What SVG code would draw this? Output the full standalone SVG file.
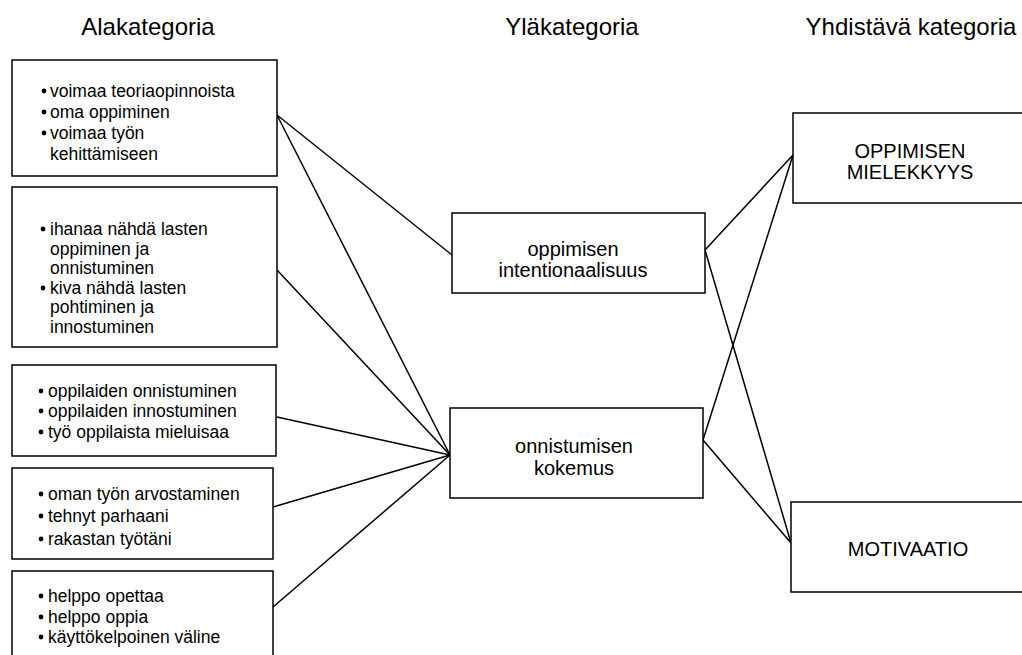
<svg xmlns="http://www.w3.org/2000/svg" width="1022" height="655" viewBox="0 0 1022 655">
  <style>
    .box { fill: #fff; stroke: #000; stroke-width: 1.5; }
    .head { font-family: "Liberation Sans", Arial, sans-serif; font-size: 24px; fill: #000; text-anchor: middle; }
    .item { font-family: "Liberation Sans", Arial, sans-serif; font-size: 17.5px; fill: #000; }
    .mid { font-family: "Liberation Sans", Arial, sans-serif; font-size: 20px; fill: #000; text-anchor: middle; }
    .link { stroke: #000; stroke-width: 1.5; fill: none; }
  </style>
  <rect width="1022" height="655" fill="#fff"/>

  <!-- column headings -->
  <g id="headings">
    <text class="head" x="148" y="35">Alakategoria</text>
    <text class="head" x="572" y="35">Yläkategoria</text>
    <text class="head" x="911" y="35">Yhdistävä kategoria</text>
  </g>

  <!-- connectors -->
  <g id="connectors">
    <line class="link" x1="277" y1="115" x2="452" y2="255"/>
    <line class="link" x1="277" y1="115" x2="450" y2="455"/>
    <line class="link" x1="277" y1="270" x2="450" y2="455"/>
    <line class="link" x1="277" y1="417" x2="450" y2="455"/>
    <line class="link" x1="273" y1="507" x2="450" y2="455"/>
    <line class="link" x1="273" y1="607" x2="450" y2="455"/>
    <line class="link" x1="705" y1="250" x2="793" y2="155"/>
    <line class="link" x1="705" y1="250" x2="791" y2="543"/>
    <line class="link" x1="703" y1="440" x2="793" y2="155"/>
    <line class="link" x1="703" y1="440" x2="791" y2="543"/>
  </g>

  <!-- sub-categories -->
  <g id="sub1">
    <rect class="box" x="12" y="60" width="265" height="116"/>
    <circle cx="44" cy="91" r="2.4"/>
    <circle cx="44" cy="112" r="2.4"/>
    <circle cx="44" cy="133" r="2.4"/>
    <text class="item" x="50" y="97">voimaa teoriaopinnoista</text>
    <text class="item" x="50" y="118">oma oppiminen</text>
    <text class="item" x="50" y="139">voimaa työn</text>
    <text class="item" x="50" y="160">kehittämiseen</text>
  </g>

  <g id="sub2">
    <rect class="box" x="12" y="187" width="265" height="160"/>
    <circle cx="43" cy="229" r="2.4"/>
    <circle cx="43" cy="288" r="2.4"/>
    <text class="item" x="50" y="235">ihanaa nähdä lasten</text>
    <text class="item" x="50" y="255">oppiminen ja</text>
    <text class="item" x="50" y="274">onnistuminen</text>
    <text class="item" x="50" y="294">kiva nähdä lasten</text>
    <text class="item" x="50" y="313">pohtiminen ja</text>
    <text class="item" x="50" y="333">innostuminen</text>
  </g>

  <g id="sub3">
    <rect class="box" x="12" y="365" width="264" height="91"/>
    <circle cx="41" cy="391" r="2.4"/>
    <circle cx="41" cy="411" r="2.4"/>
    <circle cx="41" cy="432" r="2.4"/>
    <text class="item" x="48" y="397">oppilaiden onnistuminen</text>
    <text class="item" x="48" y="417">oppilaiden innostuminen</text>
    <text class="item" x="48" y="438">työ oppilaista mieluisaa</text>
  </g>

  <g id="sub4">
    <rect class="box" x="12" y="468" width="261" height="91"/>
    <circle cx="41" cy="494" r="2.4"/>
    <circle cx="41" cy="516" r="2.4"/>
    <circle cx="41" cy="539" r="2.4"/>
    <text class="item" x="48" y="500">oman työn arvostaminen</text>
    <text class="item" x="48" y="522">tehnyt parhaani</text>
    <text class="item" x="48" y="545">rakastan työtäni</text>
  </g>

  <g id="sub5">
    <rect class="box" x="12" y="571" width="261" height="100"/>
    <circle cx="41" cy="596" r="2.4"/>
    <circle cx="41" cy="617" r="2.4"/>
    <circle cx="41" cy="637" r="2.4"/>
    <text class="item" x="48" y="602">helppo opettaa</text>
    <text class="item" x="48" y="623">helppo oppia</text>
    <text class="item" x="48" y="643">käyttökelpoinen väline</text>
  </g>

  <!-- upper categories -->
  <g id="upper1">
    <rect class="box" x="452" y="213" width="253" height="80"/>
    <text class="mid" x="573" y="256">oppimisen</text>
    <text class="mid" x="573" y="277">intentionaalisuus</text>
  </g>

  <g id="upper2">
    <rect class="box" x="450" y="408" width="253" height="90"/>
    <text class="mid" x="574" y="453">onnistumisen</text>
    <text class="mid" x="574" y="475">kokemus</text>
  </g>

  <!-- combining categories -->
  <g id="main1">
    <rect class="box" x="793" y="113" width="260" height="90"/>
    <text class="mid" x="910" y="158">OPPIMISEN</text>
    <text class="mid" x="910" y="179">MIELEKKYYS</text>
  </g>

  <g id="main2">
    <rect class="box" x="791" y="502" width="260" height="90"/>
    <text class="mid" x="908" y="556">MOTIVAATIO</text>
  </g>
</svg>
